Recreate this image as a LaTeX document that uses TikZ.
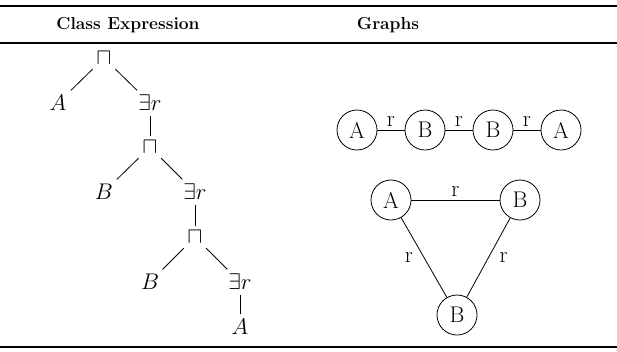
\RequirePackage{fix-cm}
\documentclass[tikz,border=0pt]{standalone}
\usepackage{amssymb}
\usepackage{amsmath}
\usepackage{tikz}

\begin{document}
\begin{tikzpicture}[x=0.75pt,y=-0.75pt,line width=0.6pt,font=\fontsize{17}{20}\selectfont]
		\tikzstyle{vert}=[circle,draw,minimum size=30pt,inner sep=0pt]
		\tikzstyle{rule}=[line width=1.1pt]
		\tikzstyle{head}=[font=\fontsize{13}{16}\selectfont\bfseries]
		\tikzstyle{lbl}=[inner sep=2pt]
		
		\useasboundingbox (0,0) rectangle (617,351);
		
		% table rules
		\draw[rule] (0,6) -- (617,6);
		\draw[rule] (0,43) -- (617,43);
		\draw[rule] (0,347) -- (617,347);
		
		\node[head] (h_class) at (128,25) {Class Expression};
		\node[head] (h_graph) at (388,25) {Graphs};
		
		% class expression tree
		\node (and_1) at (104,58) {$\sqcap$};
		\node (a_1) at (58,103) {$A$};
		\node (ex_1) at (150,103) {$\exists r$};
		\node (and_2) at (150,147) {$\sqcap$};
		\node (b_1) at (104,192) {$B$};
		\node (ex_2) at (195,192) {$\exists r$};
		\node (and_3) at (195,237) {$\sqcap$};
		\node (b_2) at (150,282) {$B$};
		\node (ex_3) at (240,282) {$\exists r$};
		\node (a_2) at (240,327) {$A$};
		
		\draw (and_1) -- (a_1);
		\draw (and_1) -- (ex_1);
		\draw (ex_1) -- (and_2);
		\draw (and_2) -- (b_1);
		\draw (and_2) -- (ex_2);
		\draw (ex_2) -- (and_3);
		\draw (and_3) -- (b_2);
		\draw (and_3) -- (ex_3);
		\draw (ex_3) -- (a_2);
		
		% chain graph
		\node[vert] (c_1) at (357,130) {A};
		\node[vert] (c_2) at (425,130) {B};
		\node[vert] (c_3) at (493,130) {B};
		\node[vert] (c_4) at (561,130) {A};
		
		\path
		(c_1) edge node[lbl,above] {r} (c_2)
		(c_2) edge node[lbl,above] {r} (c_3)
		(c_3) edge node[lbl,above] {r} (c_4);
		
		% triangle graph
		\node[vert] (t_1) at (391,200) {A};
		\node[vert] (t_2) at (520,200) {B};
		\node[vert] (t_3) at (457,315) {B};
		
		\path
		(t_1) edge node[lbl,above] {r} (t_2)
		(t_1) edge node[lbl,left=6pt] {r} (t_3)
		(t_2) edge node[lbl,right=6pt] {r} (t_3);

\end{tikzpicture}
\end{document}
